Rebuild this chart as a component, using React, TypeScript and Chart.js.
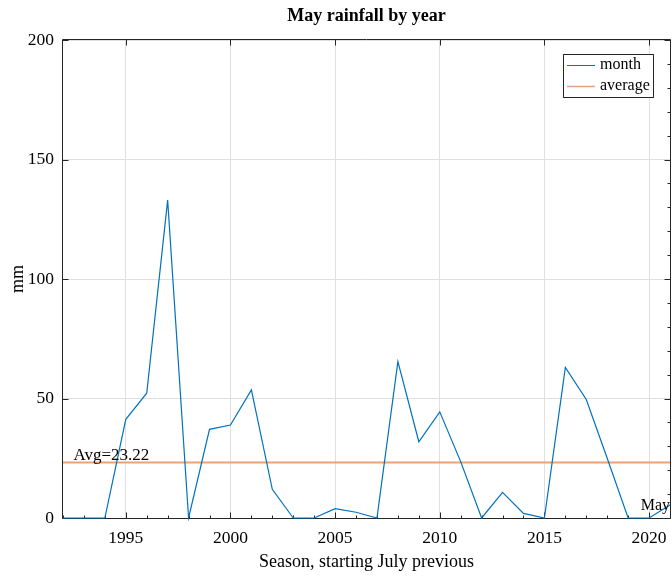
import React, { useEffect, useRef } from "react";
import { Chart, registerables } from "chart.js";

Chart.register(...registerables);

const years: number[] = [
  1992, 1993, 1994, 1995, 1996, 1997, 1998, 1999, 2000, 2001,
  2002, 2003, 2004, 2005, 2006, 2007, 2008, 2009, 2010, 2011,
  2012, 2013, 2014, 2015, 2016, 2017, 2018, 2019, 2020, 2021,
];
const mayRainfall: number[] = [
  0, 0, 0, 41.3, 52.2, 133, 0, 37.1, 38.9, 53.6,
  12, 0, 0, 3.9, 2.4, 0, 65.4, 31.9, 44.4, 23.6,
  0, 10.7, 1.9, 0, 63, 49.6, 25, 0, 0, 5.4,
];
const AVERAGE = 23.22;
const xTickValues: number[] = [1995, 2000, 2005, 2010, 2015, 2020];
const yTickValues: number[] = [0, 50, 100, 150, 200];
const TITLE = "May rainfall by year";
const X_TITLE = "Season, starting July previous";
const Y_TITLE = "mm";
const LEGEND_LABELS = ["month", "average"];
const END_LABEL = "May";

const FONT = '"Liberation Serif", "Times New Roman", "DejaVu Serif", serif';
const INK = "#262626";
const BLUE = "#0072BD";
const ORANGE = "#E9A17F";

const decorPlugin = {
  id: "decor",
  beforeDatasetsDraw(chart: any) {
    const { ctx, chartArea, scales } = chart;
    const { left, right, top, bottom } = chartArea;
    const xs = scales.x;
    const ys = scales.y;
    ctx.save();
    ctx.strokeStyle = INK;
    ctx.lineWidth = 1;
    const L = Math.round(left) - 0.5;
    const R = Math.round(right) + 0.5;
    const T = Math.round(top) - 0.5;
    const B = Math.round(bottom) + 0.5;
    ctx.beginPath();
    ctx.rect(L, T, R - L, B - T);
    ctx.stroke();
    ctx.beginPath();
    const tl = 6;
    xTickValues.forEach((v) => {
      const px = Math.round(xs.getPixelForValue(v)) + 0.5;
      ctx.moveTo(px, B);
      ctx.lineTo(px, B - tl);
      ctx.moveTo(px, T);
      ctx.lineTo(px, T + tl);
    });
    yTickValues.forEach((v) => {
      const py = Math.round(ys.getPixelForValue(v)) + 0.5;
      ctx.moveTo(L, py);
      ctx.lineTo(L + tl, py);
      ctx.moveTo(R, py);
      ctx.lineTo(R - tl, py);
    });
    const ml = 3;
    years.forEach((v) => {
      const px = Math.round(xs.getPixelForValue(v)) + 0.5;
      ctx.moveTo(px, B);
      ctx.lineTo(px, B - ml);
    });
    for (let v = 10; v < 200; v += 10) {
      const py = Math.round(ys.getPixelForValue(v)) + 0.5;
      ctx.moveTo(R, py);
      ctx.lineTo(R - ml, py);
    }
    ctx.stroke();
    ctx.restore();
  },
  afterDatasetsDraw(chart: any) {
    const { ctx, chartArea, scales } = chart;
    const { left, right } = chartArea;
    const xs = scales.x;
    const ys = scales.y;
    ctx.save();
    ctx.fillStyle = "#000";
    ctx.font = `bold 18px ${FONT}`;
    ctx.textAlign = "center";
    ctx.textBaseline = "middle";
    ctx.fillText(TITLE, (left + right) / 2, 16);

    ctx.font = `17px ${FONT}`;
    ctx.textAlign = "left";
    ctx.textBaseline = "alphabetic";
    ctx.fillText(
      `Avg=${AVERAGE.toFixed(2)}`,
      xs.getPixelForValue(years[0] + 0.5),
      ys.getPixelForValue(AVERAGE) - 3
    );
    const li = years.length - 1;
    ctx.font = `16px ${FONT}`;
    ctx.textAlign = "right";
    ctx.textBaseline = "middle";
    ctx.fillText(END_LABEL, xs.getPixelForValue(years[li]), ys.getPixelForValue(mayRainfall[li]) + 1);

    const bx = 563.5, by = 54.5, bw = 90, bh = 43;
    ctx.fillStyle = "#fff";
    ctx.fillRect(bx, by, bw, bh);
    ctx.strokeStyle = INK;
    ctx.lineWidth = 1;
    ctx.strokeRect(bx, by, bw, bh);
    const rows = [
      { label: LEGEND_LABELS[0], color: BLUE, y: 65 },
      { label: LEGEND_LABELS[1], color: ORANGE, y: 86 },
    ];
    ctx.font = `16px ${FONT}`;
    ctx.textAlign = "left";
    ctx.textBaseline = "middle";
    rows.forEach((r) => {
      ctx.strokeStyle = r.color;
      ctx.lineWidth = r.color === ORANGE ? 1.5 : 1;
      ctx.beginPath();
      ctx.moveTo(567, r.y + 0.5);
      ctx.lineTo(595, r.y + 0.5);
      ctx.stroke();
      ctx.fillStyle = "#000";
      ctx.fillText(r.label, 600, r.y);
    });
    ctx.restore();
  },
};

export default function App() {
  const ref = useRef<HTMLCanvasElement | null>(null);
  useEffect(() => {
    if (!ref.current) return;
    const chart = new Chart(ref.current, {
      type: "line",
      data: {
        datasets: [
          {
            label: LEGEND_LABELS[0],
            data: years.map((y, i) => ({ x: y, y: mayRainfall[i] })),
            borderColor: BLUE,
            borderWidth: 1.2,
            pointRadius: 0,
            tension: 0,
            fill: false,
            clip: 3,
          },
          {
            label: LEGEND_LABELS[1],
            data: [
              { x: years[0], y: AVERAGE },
              { x: years[years.length - 1], y: AVERAGE },
            ],
            borderColor: ORANGE,
            borderWidth: 2,
            pointRadius: 0,
            fill: false,
          },
        ],
      },
      plugins: [decorPlugin],
      options: {
        animation: false,
        responsive: false,
        maintainAspectRatio: false,
        layout: { padding: { top: 40, right: 2, left: 0, bottom: 0 } },
        plugins: {
          legend: { display: false },
          title: { display: false },
          tooltip: { enabled: false },
        },
        scales: {
          x: {
            type: "linear",
            min: years[0],
            max: years[years.length - 1],
            afterBuildTicks: (s: any) => {
              s.ticks = xTickValues.map((v) => ({ value: v }));
            },
            afterFit: (s: any) => {
              s.height = 60;
              s.paddingLeft = 0;
              s.paddingRight = 0;
            },
            ticks: {
              color: "#000",
              font: { family: FONT, size: 17.5 },
              padding: 10,
              maxRotation: 0,
              autoSkip: false,
              callback: (v: any) => String(v),
            },
            grid: { color: "#dfdfdf", lineWidth: 1, drawTicks: false },
            border: { display: false },
            title: {
              display: true,
              text: X_TITLE,
              color: "#000",
              font: { family: FONT, size: 18 },
              padding: { top: 0, bottom: 5 },
            },
          },
          y: {
            type: "linear",
            min: 0,
            max: 200,
            afterBuildTicks: (s: any) => {
              s.ticks = yTickValues.map((v) => ({ value: v }));
            },
            afterFit: (s: any) => {
              s.width = 63;
              s.paddingTop = 0;
              s.paddingBottom = 0;
            },
            ticks: {
              color: "#000",
              font: { family: FONT, size: 17.5 },
              padding: 9,
              autoSkip: false,
            },
            grid: { color: "#dfdfdf", lineWidth: 1, drawTicks: false },
            border: { display: false },
            title: {
              display: true,
              text: Y_TITLE,
              color: "#000",
              font: { family: FONT, size: 18 },
              padding: { top: 7, bottom: 0 },
            },
          },
        },
      },
    });
    return () => chart.destroy();
  }, []);
  return (
    <div style={{ position: "fixed", left: 0, top: 0, width: 672, height: 578, background: "#fff" }}>
      <canvas ref={ref} width={672} height={578} style={{ display: "block" }} />
    </div>
  );
}
